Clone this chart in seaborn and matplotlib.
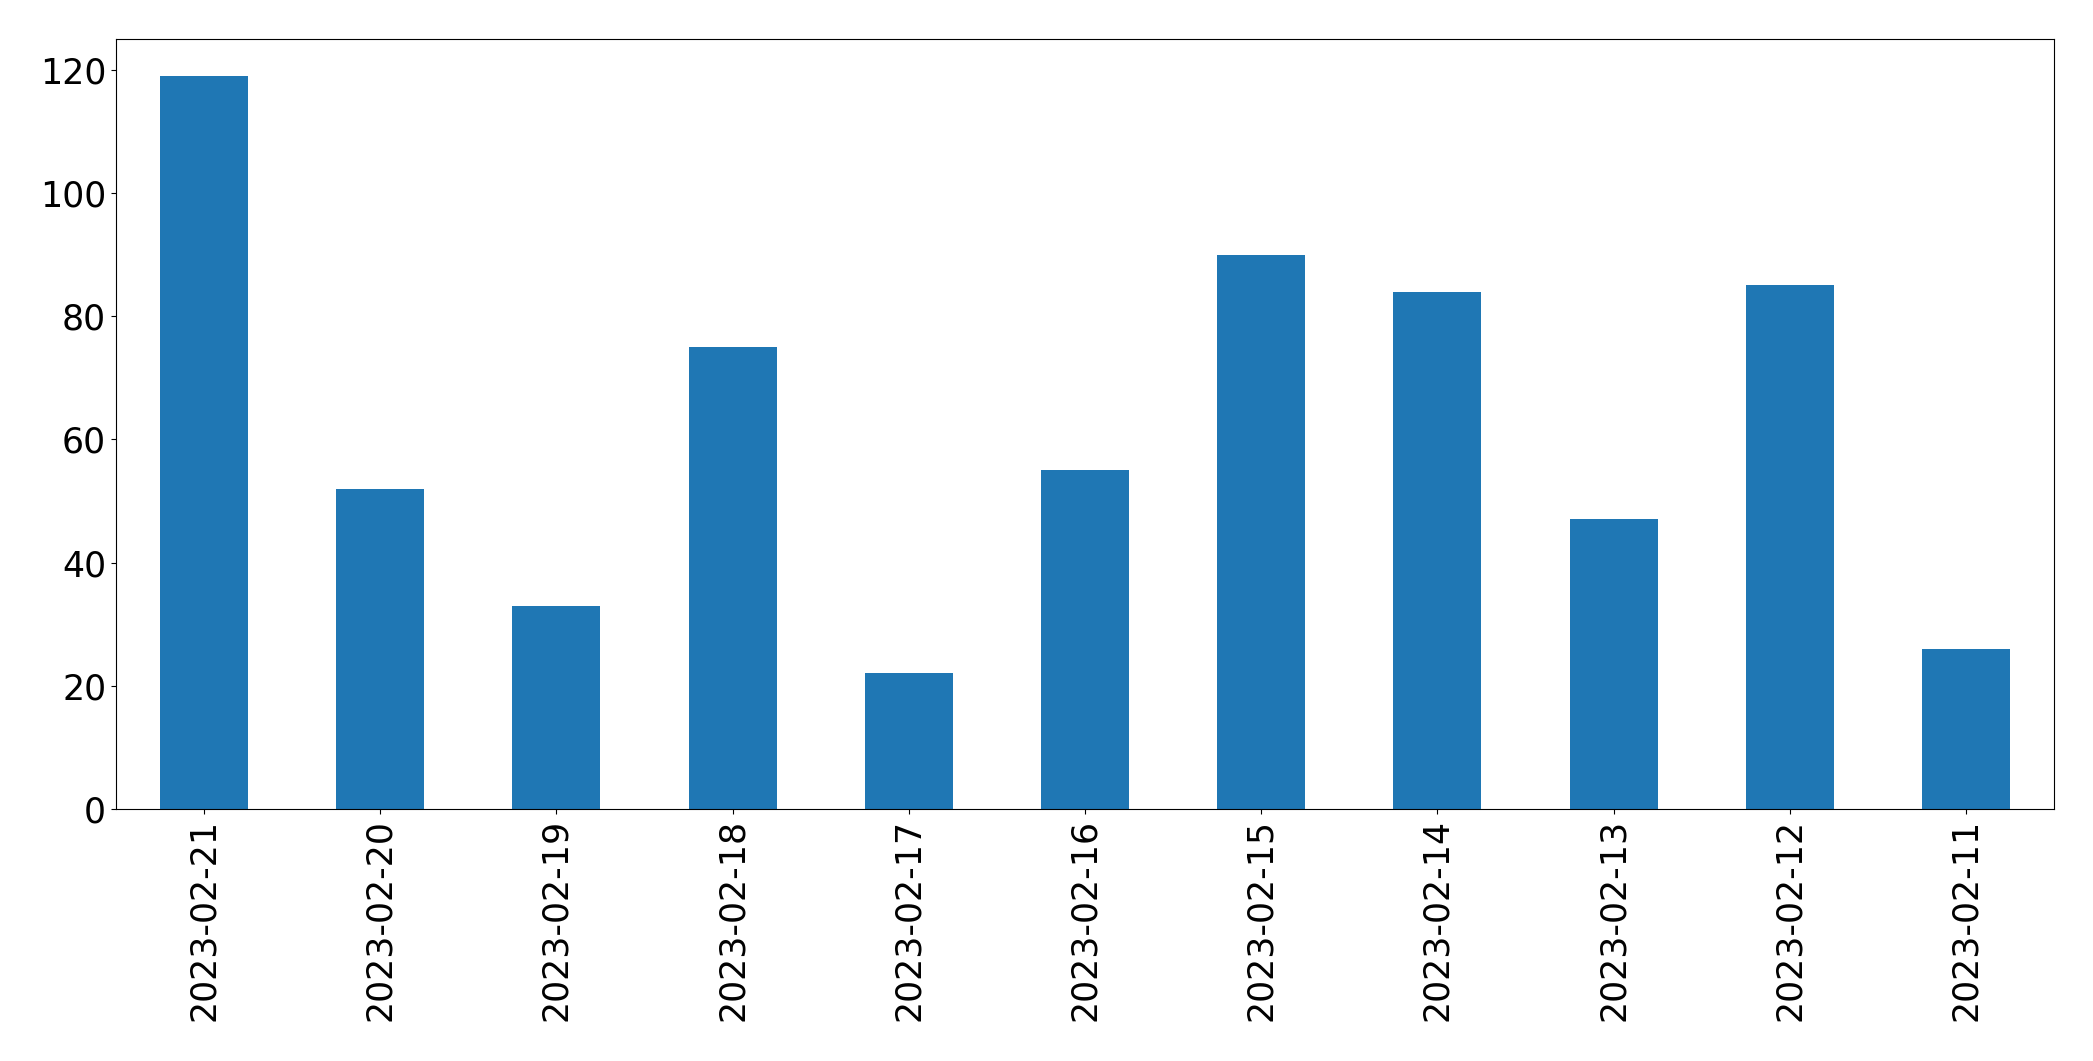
import matplotlib
matplotlib.use("Agg")
import matplotlib.pyplot as plt
import seaborn as sns
import pandas as pd

# Datos
fechas = ["2023-02-21", "2023-02-20", "2023-02-19", "2023-02-18", "2023-02-17",
          "2023-02-16", "2023-02-15", "2023-02-14", "2023-02-13", "2023-02-12",
          "2023-02-11"]
conteos = [119, 52, 33, 75, 22, 55, 90, 84, 47, 85, 26]

df = pd.DataFrame({"fecha": fechas, "conteo": conteos})

fig, ax = plt.subplots(figsize=(20.93, 10.61), dpi=100)
sns.barplot(data=df, x="fecha", y="conteo", order=fechas, color="#1f77b4",
            saturation=1, width=0.5, linewidth=0, ax=ax)

ax.set_xlim(-0.5, len(fechas) - 0.5)
ax.set_ylim(0, max(conteos) * 1.05)
ax.set_xlabel("")
ax.set_ylabel("")
ax.tick_params(axis="both", labelsize=25)
plt.setp(ax.get_xticklabels(), rotation=90)
for s in ax.spines.values():
    s.set_color("black")

plt.subplots_adjust(left=0.0554, right=0.9814, top=0.963, bottom=0.2375)
plt.savefig("out.png", dpi=100)
plt.close()
